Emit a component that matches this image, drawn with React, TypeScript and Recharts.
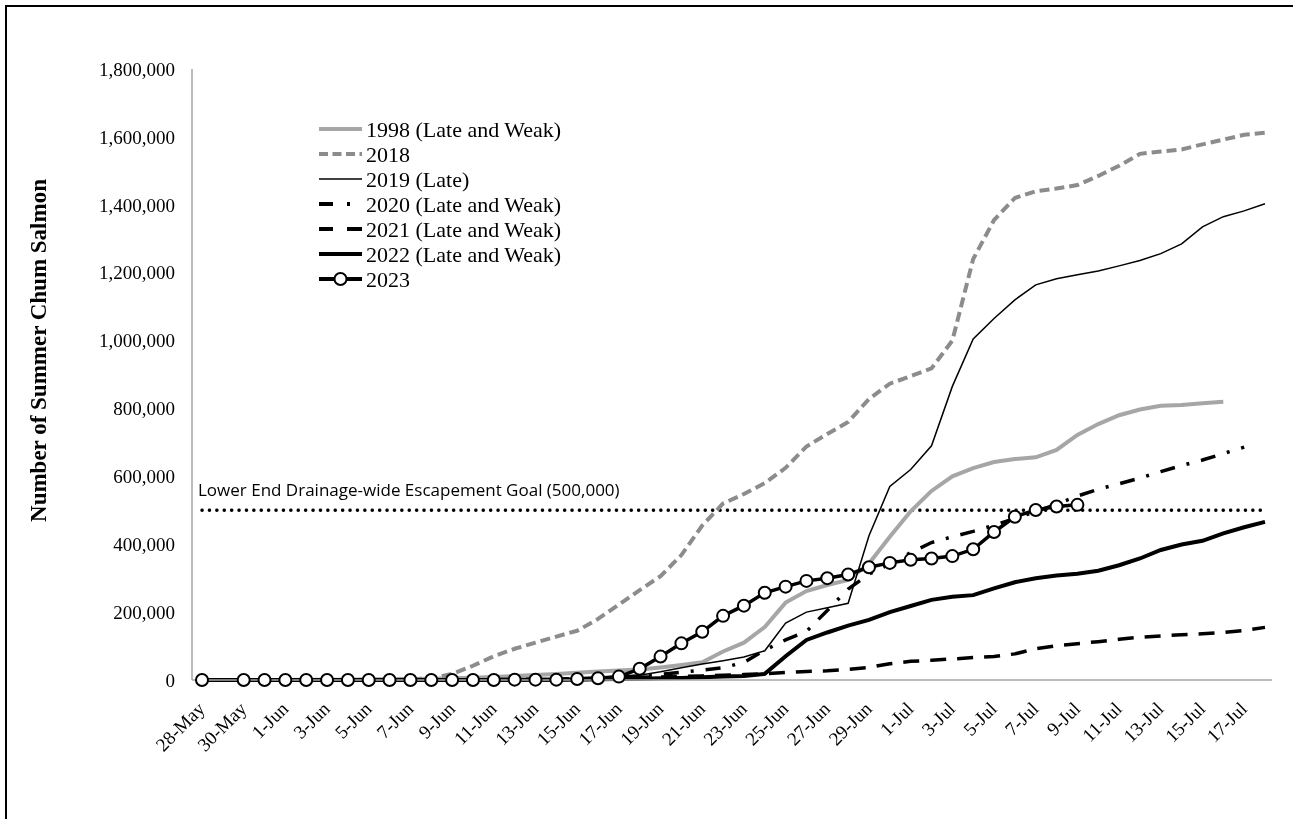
import { LineChart, Line, XAxis, YAxis, Legend, ReferenceLine } from 'recharts'

// daily cumulative counts, 28-May .. 18-Jul
const dates = [
    '28-May', '29-May', '30-May', '31-May',
    '1-Jun', '2-Jun', '3-Jun', '4-Jun', '5-Jun', '6-Jun', '7-Jun', '8-Jun', '9-Jun', '10-Jun',
    '11-Jun', '12-Jun', '13-Jun', '14-Jun', '15-Jun', '16-Jun', '17-Jun', '18-Jun', '19-Jun', '20-Jun',
    '21-Jun', '22-Jun', '23-Jun', '24-Jun', '25-Jun', '26-Jun', '27-Jun', '28-Jun', '29-Jun', '30-Jun',
    '1-Jul', '2-Jul', '3-Jul', '4-Jul', '5-Jul', '6-Jul', '7-Jul', '8-Jul', '9-Jul', '10-Jul',
    '11-Jul', '12-Jul', '13-Jul', '14-Jul', '15-Jul', '16-Jul', '17-Jul', '18-Jul',
]

const y1998 = [
    0, 0, 0, 0,
    0, 1000, 1000, 1000, 2000, 2000, 3000, 4000, 5000, 7000,
    9000, 12000, 15000, 18000, 21000, 25000, 28000, 31000, 37000, 44000,
    52000, 84000, 110000, 156000, 228000, 262000, 280000, 295000, 343000, 422000,
    497000, 557000, 600000, 624000, 642000, 651000, 656000, 678000, 722000, 754000,
    780000, 797000, 808000, 810000, 815000, 820000, null, null,
]

const y2018 = [
    0, 0, 0, 0,
    0, 0, 0, 0, 0, 1000, 2000, 5000, 18000, 42000,
    70000, 92000, 110000, 128000, 145000, 180000, 222000, 265000, 306000, 368000,
    455000, 520000, 548000, 580000, 625000, 688000, 725000, 760000, 828000, 873000,
    895000, 918000, 1000000, 1240000, 1355000, 1420000, 1440000, 1448000, 1458000, 1485000,
    1515000, 1550000, 1557000, 1563000, 1578000, 1592000, 1606000, 1612000,
]

const y2019 = [
    0, 0, 0, 0,
    0, 0, 0, 0, 0, 0, 0, 0, 1000, 1000,
    2000, 2000, 3000, 3000, 4000, 5000, 7000, 14000, 24000, 36000,
    47000, 57000, 68000, 86000, 168000, 200000, 213000, 226000, 425000, 570000,
    620000, 690000, 865000, 1005000, 1065000, 1120000, 1164000, 1182000, 1194000, 1205000,
    1220000, 1236000, 1256000, 1285000, 1335000, 1365000, 1382000, 1403000,
]

const y2020 = [
    0, 0, 0, 0,
    0, 0, 0, 0, 0, 0, 0, 0, 0, 1000,
    1000, 1000, 1000, 2000, 3000, 5000, 8000, 12000, 17000, 23000,
    29000, 36000, 52000, 88000, 118000, 143000, 205000, 268000, 312000, 342000,
    375000, 405000, 422000, 438000, 456000, 476000, 496000, 518000, 542000, 562000,
    578000, 595000, 614000, 632000, 648000, 667000, 686000, null,
]

const y2021 = [
    0, 0, 0, 0,
    0, 0, 0, 0, 0, 0, 0, 0, 0, 1000,
    1000, 2000, 2000, 3000, 4000, 5000, 6000, 8000, 9000, 11000,
    12000, 14000, 16000, 18000, 22000, 25000, 27000, 31000, 37000, 48000,
    55000, 58000, 62000, 66000, 69000, 77000, 92000, 101000, 107000, 113000,
    120000, 126000, 130000, 133000, 136000, 140000, 146000, 155000,
]

const y2022 = [
    0, 0, 0, 0,
    0, 0, 0, 0, 0, 0, 0, 0, 0, 0,
    0, 1000, 1000, 1000, 1000, 2000, 3000, 4000, 5000, 6000,
    8000, 10000, 12000, 18000, 70000, 118000, 140000, 160000, 177000, 200000,
    218000, 236000, 245000, 250000, 270000, 288000, 300000, 308000, 313000, 322000,
    338000, 358000, 383000, 399000, 410000, 432000, 450000, 466000,
]

const y2023 = [
    0, null, 0, 0,
    0, 0, 0, 0, 0, 0, 0, 0, 0, 0,
    0, 1000, 1000, 1000, 3000, 5000, 10000, 33000, 69000, 108000,
    142000, 189000, 219000, 257000, 275000, 292000, 300000, 311000, 332000, 345000,
    354000, 358000, 365000, 385000, 436000, 481000, 501000, 511000, 516000, null,
    null, null, null, null, null, null, null, null,
]

const yTicks = [0, 200000, 400000, 600000, 800000, 1000000, 1200000, 1400000, 1600000, 1800000]

const GOAL = 500000
const GOAL_LABEL = 'Lower End Drainage-wide Escapement Goal (500,000)'

const SERIF = "'Liberation Serif', 'Times New Roman', serif"
const SANS = "'Open Sans', 'Noto Sans', sans-serif"

const seriesList = [
    { key: 'y1998', name: '1998 (Late and Weak)', values: y1998, stroke: '#A6A6A6', width: 4, dash: undefined, legendDash: undefined },
    { key: 'y2018', name: '2018', values: y2018, stroke: '#8C8C8C', width: 4, dash: '10 5', legendDash: '9 4.5' },
    { key: 'y2019', name: '2019 (Late)', values: y2019, stroke: '#000', width: 1.5, dash: undefined, legendDash: undefined },
    { key: 'y2020', name: '2020 (Late and Weak)', values: y2020, stroke: '#000', width: 3.5, dash: '15 12 3 12', legendDash: '14 14 3 100' },
    { key: 'y2021', name: '2021 (Late and Weak)', values: y2021, stroke: '#000', width: 3.5, dash: '16 11', legendDash: '14 14 16' },
    { key: 'y2022', name: '2022 (Late and Weak)', values: y2022, stroke: '#000', width: 4, dash: undefined, legendDash: undefined },
    { key: 'y2023', name: '2023', values: y2023, stroke: '#000', width: 3.5, dash: undefined, legendDash: undefined },
]

const data = dates.map((date, i) => {
    const row: Record<string, string | number | null> = { date }
    seriesList.forEach((s) => {
        row[s.key] = s.values[i]
    })
    return row
})

function DateTick({ x, y, payload }: any) {
    const ax = x + 4
    const ay = y + 22
    return (
        <text
            x={ax}
            y={ay}
            transform={`rotate(-45 ${ax} ${ay})`}
            textAnchor="end"
            fontFamily={SERIF}
            fontSize={19}
            fill="#000"
        >
            {payload.value}
        </text>
    )
}

function LegendBox() {
    return (
        <svg width={270} height={180}>
            {seriesList.map((s, i) => {
                const cy = 13 + i * 25
                return (
                    <g key={s.key}>
                        <line
                            x1={0}
                            x2={43}
                            y1={cy}
                            y2={cy}
                            stroke={s.stroke}
                            strokeWidth={s.width < 2 ? 1.5 : 4}
                            strokeDasharray={s.legendDash}
                        />
                        {s.key === 'y2023' && (
                            <circle cx={21.5} cy={cy} r={6} fill="#fff" stroke="#000" strokeWidth={2} />
                        )}
                        <text x={47} y={cy + 7.5} fontFamily={SERIF} fontSize={22} fill="#000">
                            {s.name}
                        </text>
                    </g>
                )
            })}
        </svg>
    )
}

function App() {
    return (
        <>
            <div
                style={{
                    position: 'fixed',
                    left: 5,
                    top: 5,
                    width: 1400,
                    height: 900,
                    border: '2px solid #000',
                }}
            />
            <div style={{ position: 'fixed', left: 0, top: 0 }}>
                <LineChart
                    width={1293}
                    height={819}
                    data={data}
                    margin={{ top: 69, right: 21, bottom: 39, left: 92 }}
                >
                    <XAxis
                        dataKey="date"
                        interval={1}
                        height={100}
                        padding={{ left: 10, right: 7 }}
                        tickLine={false}
                        axisLine={{ stroke: '#A6A6A6', strokeWidth: 1.5 }}
                        tick={<DateTick />}
                    />
                    <YAxis
                        width={100}
                        domain={[0, 1800000]}
                        ticks={yTicks}
                        tickLine={false}
                        tickSize={6}
                        tickMargin={11}
                        axisLine={{ stroke: '#A6A6A6', strokeWidth: 1.5 }}
                        tickFormatter={(v: number) => v.toLocaleString('en-US')}
                        tick={{ fontFamily: SERIF, fontSize: 19, fill: '#000' }}
                        label={{
                            content: (p: any) => {
                                const vb = p.viewBox
                                const lx = vb.x - 46
                                const ly = vb.y + vb.height / 2 - 24
                                return (
                                    <text
                                        x={lx}
                                        y={ly}
                                        transform={`rotate(-90 ${lx} ${ly})`}
                                        textAnchor="middle"
                                        fontFamily={SERIF}
                                        fontWeight="bold"
                                        fontSize={23}
                                        fill="#000"
                                    >
                                        Number of Summer Chum Salmon
                                    </text>
                                )
                            },
                        }}
                    />
                    <Legend
                        layout="vertical"
                        align="center"
                        verticalAlign="middle"
                        wrapperStyle={{ left: 319, top: 116, width: 270, height: 180 }}
                        content={() => <LegendBox />}
                    />
                    <ReferenceLine
                        segment={[
                            { x: dates[0], y: GOAL },
                            { x: dates[dates.length - 1], y: GOAL },
                        ]}
                        stroke="#000"
                        strokeWidth={3.5}
                        strokeDasharray="0.1 7.3"
                        strokeLinecap="round"
                        label={{
                            content: (p: any) => (
                                <text
                                    x={p.viewBox.x - 4}
                                    y={p.viewBox.y - 14}
                                    fontFamily={SANS}
                                    fontSize={17}
                                    fill="#000"
                                >
                                    {GOAL_LABEL}
                                </text>
                            ),
                        }}
                    />
                    {seriesList.map((s) => (
                        <Line
                            key={s.key}
                            type="linear"
                            dataKey={s.key}
                            name={s.name}
                            stroke={s.stroke}
                            strokeWidth={s.width}
                            strokeDasharray={s.dash}
                            dot={
                                s.key === 'y2023'
                                    ? { r: 6, fill: '#fff', stroke: '#000', strokeWidth: 2 }
                                    : false
                            }
                            activeDot={false}
                            isAnimationActive={false}
                        />
                    ))}
                </LineChart>
            </div>
        </>
    )
}

export default App
